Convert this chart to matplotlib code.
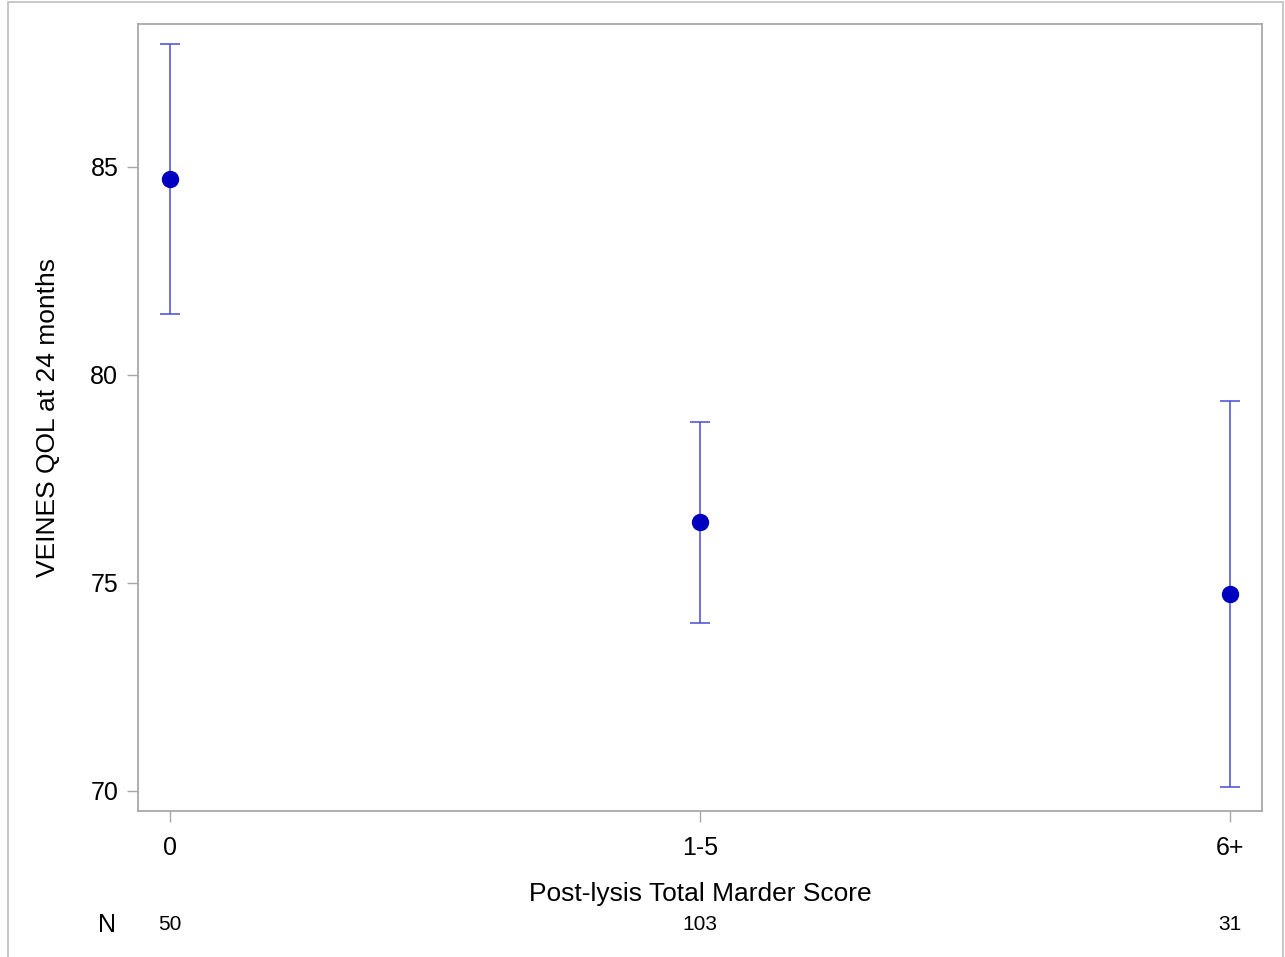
import matplotlib
matplotlib.use("Agg")
import matplotlib.pyplot as plt
from matplotlib.patches import Rectangle
from matplotlib.transforms import blended_transform_factory

plt.rcParams['font.family'] = ['Liberation Sans', 'DejaVu Sans']

categories = ["0", "1-5", "6+"]
means = [84.70, 76.46, 74.73]
upper = [87.96, 78.86, 79.37]
lower = [81.46, 74.03, 70.10]
counts = [50, 103, 31]

fig = plt.figure(figsize=(12.85, 9.57), dpi=100)
ax = fig.add_axes([0.1072, 0.1529, 0.8749, 0.8220])

x = list(range(len(categories)))
yerr = [[m - lo for m, lo in zip(means, lower)],
        [hi - m for m, hi in zip(means, upper)]]

ax.errorbar(x, means, yerr=yerr, fmt='none', ecolor='#4a4ad6',
            elinewidth=1.1, capsize=7.2, capthick=1.1, zorder=2)
ax.plot(x, means, 'o', color='#0000c0', markersize=11.5, zorder=3)

ax.set_xlim(-0.061, 2.06)
ax.set_ylim(69.52, 88.43)
ax.set_yticks([70, 75, 80, 85])
ax.set_xticks(x)
ax.set_xticklabels(categories)

for side in ['left', 'bottom', 'top', 'right']:
    ax.spines[side].set_color('#a8a8a8')
    ax.spines[side].set_linewidth(1.3)

ax.tick_params(axis='both', direction='out', length=8, width=1.0,
               color='#a8a8a8', labelsize=18, labelcolor='black')
ax.tick_params(axis='x', pad=10)
ax.tick_params(axis='y', pad=6)

ax.set_ylabel("VEINES QOL at 24 months", fontsize=19, labelpad=22)
ax.set_xlabel("Post-lysis Total Marder Score", fontsize=19, labelpad=16)

# Sample size row beneath the axis
trans = blended_transform_factory(ax.transData, fig.transFigure)
y_row = 1 - 925 / 957
fig.text(107 / 1285, y_row, "N", fontsize=18, ha='center', va='center')
for xi, n in zip(x, counts):
    ax.text(xi, y_row, str(n), transform=trans, fontsize=15,
            ha='center', va='center', clip_on=False)

# Outer frame
fig.patches.append(Rectangle((8 / 1285, -0.05), 1275 / 1285, 1.05 - 2 / 957,
                             transform=fig.transFigure, fill=False,
                             edgecolor='#c4c4c4', linewidth=1.3))

fig.savefig("out.png", dpi=100)
